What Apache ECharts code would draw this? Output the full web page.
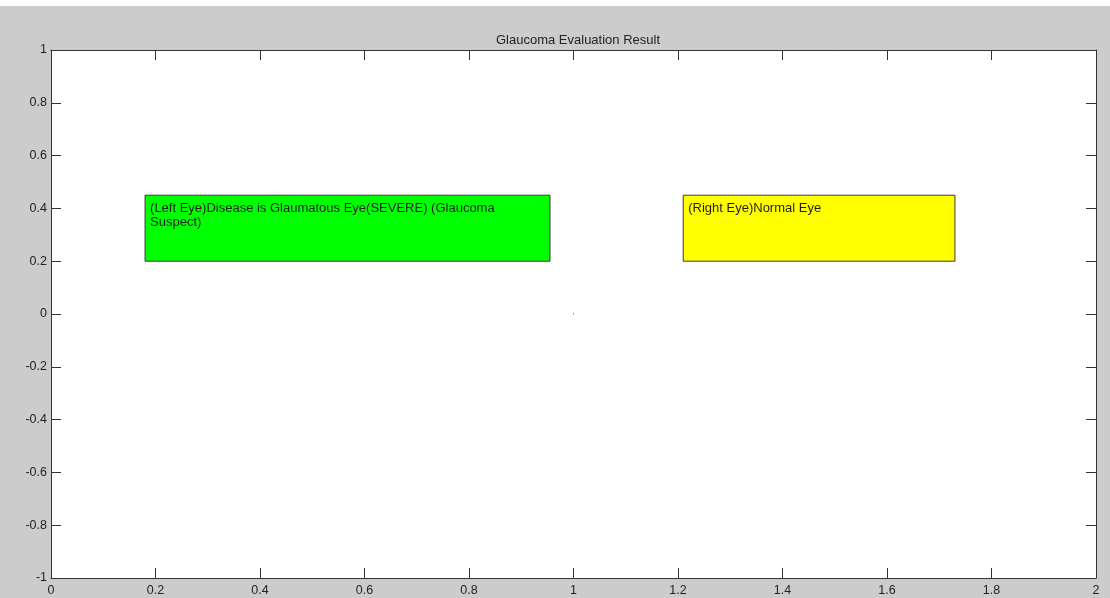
<!DOCTYPE html>
<html>
<head>
<meta charset="utf-8">
<script src="https://cdn.jsdelivr.net/npm/echarts@6/dist/echarts.min.js"></script>
<style>html,body{margin:0;padding:0;background:#cccccc;}#c{width:1110px;height:598px;}</style>
</head>
<body>
<div id="c"></div>
<script>
const chartTitle = 'Glaucoma Evaluation Result';
const boxLabels = ['(Left Eye)Disease is Glaumatous Eye(SEVERE) (Glaucoma\nSuspect)', '(Right Eye)Normal Eye'];
const boxX0 = [0.18, 1.21];
const boxX1 = [0.955, 1.73];
const boxY0 = [0.2, 0.2];
const boxY1 = [0.45, 0.45];
const boxColors = ['#00ff00', '#ffff00'];
const pointX = [1];
const pointY = [0];

const fmt = v => String(Math.round(v * 10) / 10);
const font = 'Arial, "Liberation Sans", sans-serif';

const boxData = boxLabels.map((t, i) => [boxX0[i], boxY0[i], boxX1[i], boxY1[i], t, boxColors[i]]);

const tickStyle = { show: true, inside: true, length: 10, lineStyle: { color: '#333', width: 1 } };
const axisLine = { show: true, onZero: false, lineStyle: { color: '#333', width: 1 } };

const chart = echarts.init(document.getElementById('c'));
chart.setOption({
  backgroundColor: '#cccccc',
  animation: false,
  graphic: [{ type: 'rect', left: 0, top: 0, shape: { width: 1110, height: 6 }, style: { fill: '#ffffff' }, z: 0 }],
  title: {
    text: chartTitle, left: 573, top: 29, textAlign: 'center',
    textStyle: { fontFamily: font, fontSize: 13, fontWeight: 'normal', color: '#222' }
  },
  grid: { left: 51, top: 50, right: 14, bottom: 20, show: true, backgroundColor: '#ffffff', borderWidth: 0 },
  xAxis: [
    { type: 'value', min: 0, max: 2, interval: 0.2, position: 'bottom',
      axisLine, axisTick: tickStyle, splitLine: { show: false },
      axisLabel: { formatter: fmt, margin: 6, fontFamily: font, fontSize: 12.5, color: '#222' } },
    { type: 'value', min: 0, max: 2, interval: 0.2, position: 'top',
      axisLine, axisTick: tickStyle, splitLine: { show: false }, axisLabel: { show: false } }
  ],
  yAxis: [
    { type: 'value', min: -1, max: 1, interval: 0.2, position: 'left',
      axisLine, axisTick: tickStyle, splitLine: { show: false },
      axisLabel: { formatter: fmt, margin: 4, fontFamily: font, fontSize: 12.5, color: '#222' } },
    { type: 'value', min: -1, max: 1, interval: 0.2, position: 'right',
      axisLine, axisTick: tickStyle, splitLine: { show: false }, axisLabel: { show: false } }
  ],
  series: [
    {
      type: 'custom',
      data: boxData,
      renderItem: function (params, api) {
        const p0 = api.coord([api.value(0), api.value(3)]);
        const p1 = api.coord([api.value(2), api.value(1)]);
        const d = boxData[params.dataIndex];
        return {
          type: 'group',
          children: [
            { type: 'rect', shape: { x: p0[0], y: p0[1], width: p1[0] - p0[0], height: p1[1] - p0[1] },
              style: { fill: d[5], stroke: '#3a3a3a', lineWidth: 1 } },
            { type: 'text', x: p0[0] + 5, y: p0[1] + 6,
              style: { text: d[4], fill: '#1e1e1e', font: '13px ' + font, lineHeight: 14, verticalAlign: 'top', align: 'left' } }
          ]
        };
      },
      z: 2
    },
    {
      type: 'scatter',
      data: pointX.map((x, i) => [x, pointY[i]]),
      symbol: 'rect', symbolSize: 1,
      itemStyle: { color: '#333' },
      z: 3
    }
  ]
});
</script>
</body>
</html>
